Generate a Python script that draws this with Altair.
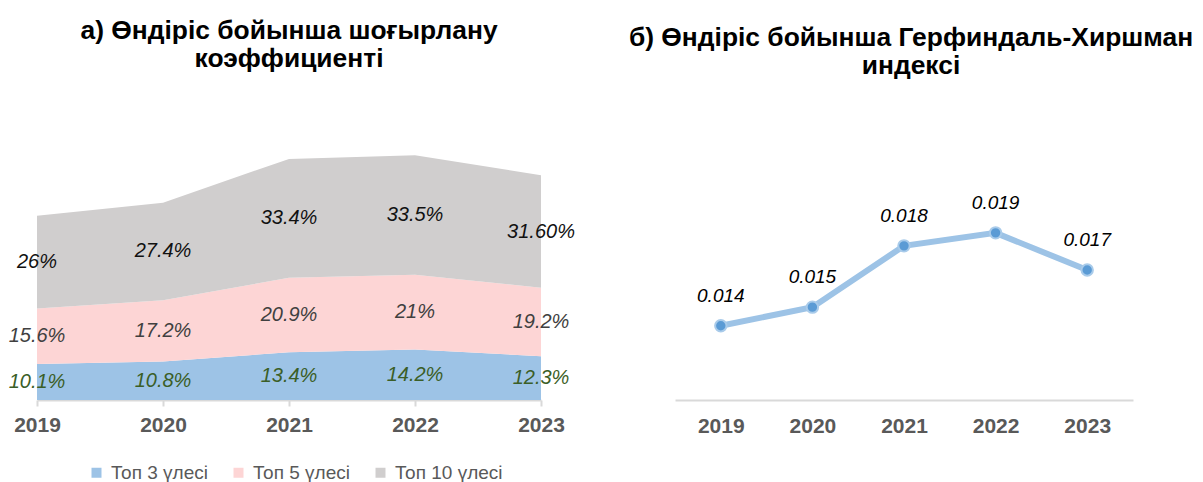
import altair as alt
import pandas as pd

years = ["2019", "2020", "2021", "2022", "2023"]
series_names = ["Топ 3 үлесі", "Топ 5 үлесі", "Топ 10 үлесі"]
top3 = [10.1, 10.8, 13.4, 14.2, 12.3]
top5 = [15.6, 17.2, 20.9, 21.0, 19.2]
top10 = [26.0, 27.4, 33.4, 33.5, 31.6]
top3_labels = ["10.1%", "10.8%", "13.4%", "14.2%", "12.3%"]
top5_labels = ["15.6%", "17.2%", "20.9%", "21%", "19.2%"]
top10_labels = ["26%", "27.4%", "33.4%", "33.5%", "31.60%"]
hhi = [0.014, 0.015, 0.0183, 0.019, 0.017]

title_left = ["а) Өндіріс бойынша шоғырлану", "коэффициенті"]
title_right = ["б) Өндіріс бойынша Герфиндаль-Хиршман", "индексі"]

area_colors = ["#9DC3E6", "#FDD5D5", "#D0CECE"]
label_colors = ["#3B5E27", "#404040", "#111111"]

rows = []
for k, (name, vals, labs) in enumerate(zip(series_names, [top3, top5, top10],
                                          [top3_labels, top5_labels, top10_labels])):
    for yr, v, lab in zip(years, vals, labs):
        rows.append({"year": yr, "series": name, "val": v, "lab": lab, "ord": k})
df = pd.DataFrame(rows)

F = "Liberation Sans"

axis_common = dict(title=None, labelAngle=0, labelFont=F, labelFontSize=21,
                   labelFontWeight="bold", labelColor="#595959", orient="bottom",
                   domainColor="#D9D9D9", domainWidth=2, grid=False)

# ---- left panel: stacked area ----
xl = alt.X("year:O", scale=alt.Scale(type="point", padding=0, range=[0, 504]),
           axis=alt.Axis(tickColor="#D9D9D9", tickSize=6, tickWidth=2, labelPadding=8, **axis_common))
yscale_l = alt.Scale(domain=[0, 73])

base_l = alt.Chart(df).transform_stack(
    stack="val", groupby=["year"], as_=["s0", "s1"], sort=[alt.SortField("ord", order="ascending")]
).transform_calculate(mid="(datum.s0 + datum.s1) / 2")

area = base_l.mark_area(opacity=1).encode(
    x=xl,
    y=alt.Y("s1:Q", scale=yscale_l, axis=None),
    y2="s0:Q",
    color=alt.Color("series:N", scale=alt.Scale(domain=series_names, range=area_colors),
                    legend=alt.Legend(title=None, orient="none", direction="horizontal",
                                      legendX=50, legendY=323, symbolType="square",
                                      symbolSize=100, symbolStrokeWidth=0,
                                      labelFont=F, labelFontSize=19, labelColor="#595959",
                                      columnPadding=21, labelOffset=5)),
    detail="series:N",
)

label_layers = []
for name, col in zip(series_names, label_colors):
    label_layers.append(
        base_l.transform_filter(alt.datum.series == name).mark_text(
            font=F, fontSize=20, fontStyle="italic", color=col, baseline="middle"
        ).encode(x=alt.X("year:O"), y=alt.Y("mid:Q", scale=yscale_l), text="lab:N")
    )

tl = alt.Chart(pd.DataFrame({"a": [0]})).mark_text(
    text=title_left, font=F, fontSize=26.4, fontWeight="bold", color="black",
    lineHeight=28, baseline="alphabetic", align="center"
).encode(x=alt.value(252), y=alt.value(-101))

left = alt.layer(area, *label_layers, tl)

# ---- right panel: HHI line ----
dfh = pd.DataFrame({"year": years, "v": hhi})
xr = alt.X("year:O", scale=alt.Scale(type="point", padding=0.5, range=[638, 1096]),
           axis=alt.Axis(ticks=False, tickSize=0, labelPadding=15, **axis_common))
yr = alt.Y("v:Q", scale=alt.Scale(domain=[0.01, 0.024], zero=False), axis=None)
base_r = alt.Chart(dfh)
line = base_r.mark_line(color="#9DC3E6", strokeWidth=6).encode(x=xr, y=yr)
pts = base_r.mark_circle(size=130, fill="#5B9BD5", stroke="#A9CBEA", strokeWidth=2, opacity=1).encode(x=xr, y=yr)
lbl = base_r.mark_text(font=F, fontSize=19, fontStyle="italic", color="black", dy=-30).encode(
    x=xr, y=yr, text=alt.Text("v:Q", format=".3f"))
tr = alt.Chart(pd.DataFrame({"a": [0]})).mark_text(
    text=title_right, font=F, fontSize=26.4, fontWeight="bold", color="black",
    lineHeight=28, baseline="alphabetic", align="center"
).encode(x=alt.value(874), y=alt.value(-94))

right = alt.layer(line, pts, lbl, tr)

chart = alt.layer(left, right).resolve_scale(
    x="independent", y="independent", color="independent"
).resolve_axis(x="independent").properties(
    width=1096, height=260,
    padding={"left": 37, "top": 140, "right": 70, "bottom": 82},
    autosize="none",
    background="white",
).configure_view(stroke=None)

chart.save("out.html", embed_options={"renderer": "svg", "actions": False})
